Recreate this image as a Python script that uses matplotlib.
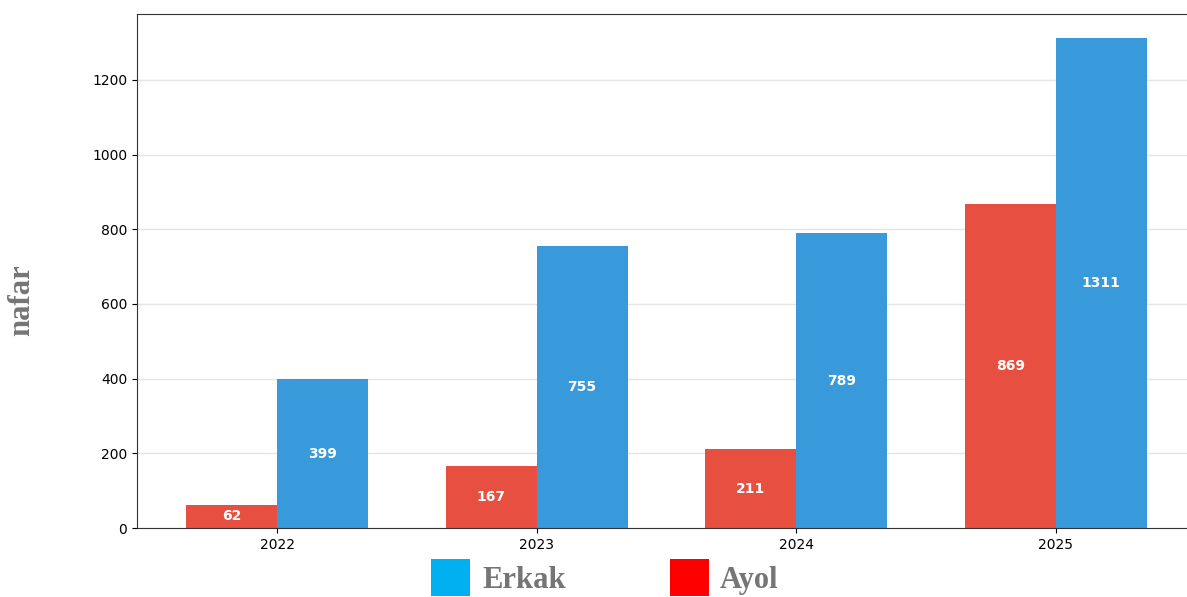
import matplotlib
matplotlib.use('Agg')
import matplotlib.pyplot as plt
import numpy as np
from matplotlib.patches import Patch

# 数据
years = ['2022', '2023', '2024', '2025']
ayol = [62, 167, 211, 869]
erkak = [399, 755, 789, 1311]

RED = '#E74C3C'
BLUE = '#3498DB'
GREY = '#757575'

fig = plt.figure(figsize=(11.87, 5.97), dpi=100)
ax = fig.add_axes([137 / 1187, 1 - 528 / 597, 1059 / 1187, 514 / 597])

x = np.arange(len(years))
w = 0.35
b1 = ax.bar(x - w / 2, ayol, w, color=RED, alpha=0.98, zorder=2)
b2 = ax.bar(x + w / 2, erkak, w, color=BLUE, alpha=0.98, zorder=2)

# 柱内数值
for bars in (b1, b2):
    for r in bars:
        h = r.get_height()
        ax.text(r.get_x() + r.get_width() / 2, h / 2, f'{int(h)}',
                ha='center', va='center', color='white',
                fontsize=10, fontweight='bold', zorder=4)

ax.set_xlim(-0.54, 3.54)
ax.set_ylim(0, max(erkak) * 1.05)
ax.set_xticks(x)
ax.set_xticklabels(years)
ax.set_yticks([0, 200, 400, 600, 800, 1000, 1200])
ax.tick_params(labelsize=10)
ax.grid(axis='y', color='#E5E5E5', linewidth=1, zorder=1)
ax.set_axisbelow(True)
for s in ax.spines.values():
    s.set_color('#333333')

fig.text(22 / 1187, 1 - 300 / 597, 'nafar', rotation=90, ha='center', va='center',
         fontsize=22, fontweight='bold', color=GREY, family='Liberation Serif')

handles = [Patch(facecolor='#00B0F0', label='Erkak'),
           Patch(facecolor='#FF0000', label='Ayol')]
fig.legend(handles=handles, loc='center', bbox_to_anchor=(605 / 1187, 1 - 577.5 / 597),
           ncol=2, frameon=False, handlelength=1.28, handleheight=1.45,
           handletextpad=0.38, columnspacing=3.4, borderpad=0,
           prop={'family': 'Liberation Serif', 'weight': 'bold', 'size': 22},
           labelcolor=GREY)

fig.savefig('out.png', dpi=100, facecolor='white')
